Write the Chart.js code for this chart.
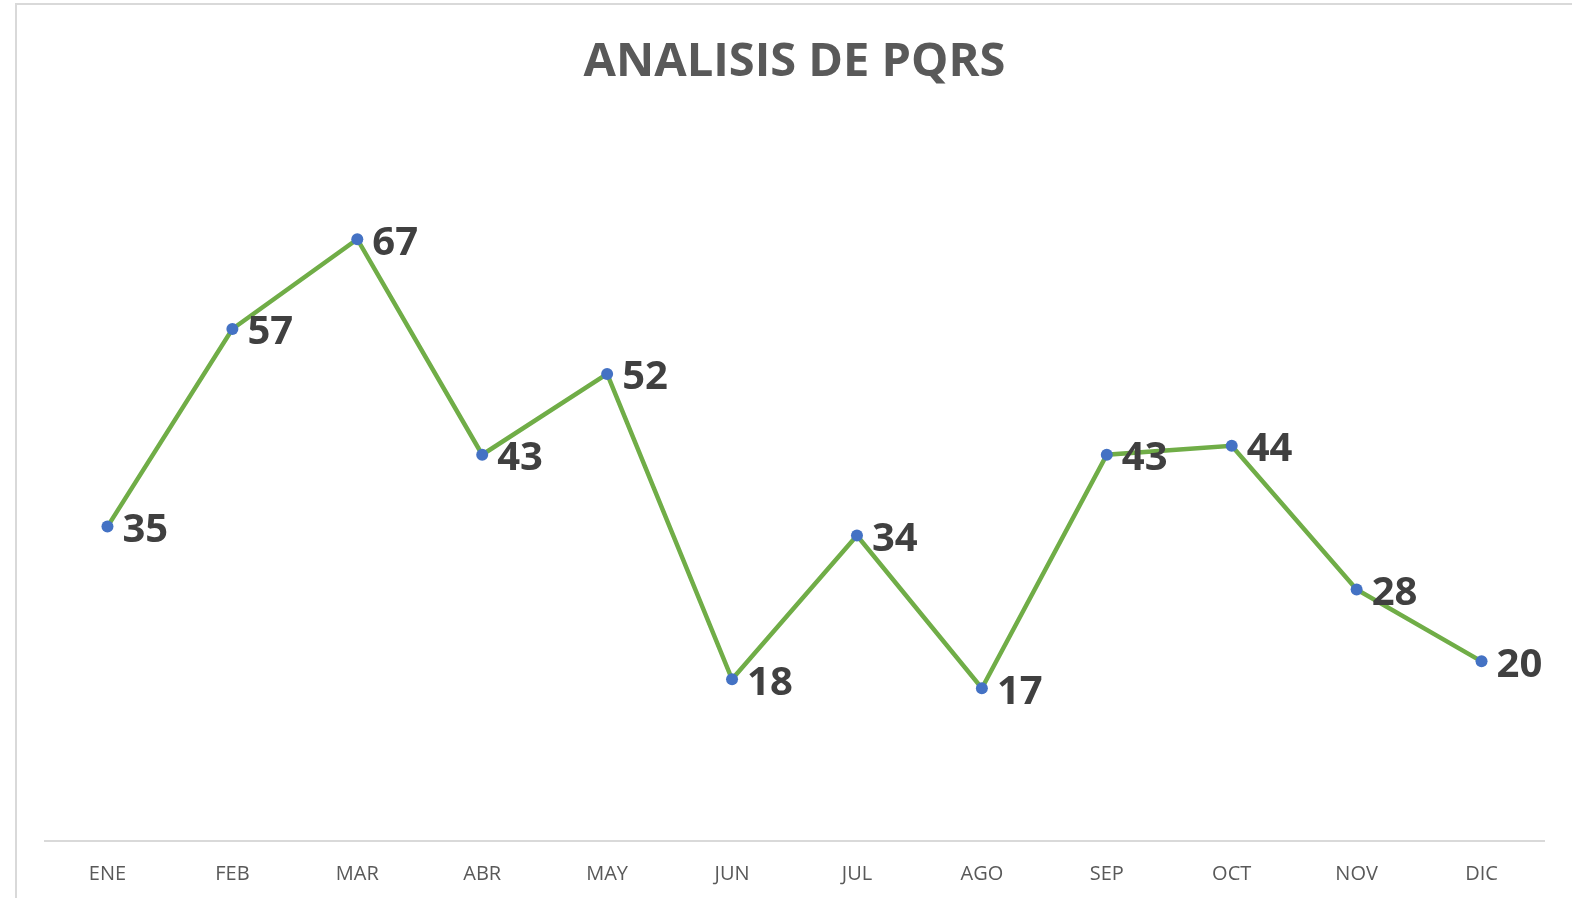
<!DOCTYPE html>
<html>
<head>
<meta charset="utf-8">
<script src="https://cdn.jsdelivr.net/npm/chart.js@4"></script>
<style>
  html, body { margin: 0; padding: 0; background: #fff; overflow: hidden; }
  #wrap { position: relative; width: 1572px; height: 898px; }
  #frame {
    position: absolute; left: 15px; top: 3px; width: 2000px; height: 2000px;
    border-left: 2px solid #d9d9d9; border-top: 2px solid #d9d9d9;
    pointer-events: none;
  }
  canvas { position: absolute; left: 0; top: 0; }
</style>
</head>
<body>
<div id="wrap">
  <div id="frame"></div>
  <canvas id="pqrsChart" width="1572" height="898"></canvas>
</div>
<script>
const months = ['ENE', 'FEB', 'MAR', 'ABR', 'MAY', 'JUN', 'JUL', 'AGO', 'SEP', 'OCT', 'NOV', 'DIC'];
const pqrsValues = [35, 57, 67, 43, 52, 18, 34, 17, 43, 44, 28, 20];
const chartTitle = 'ANALISIS DE PQRS';

const fontFamily = '"Open Sans", "Noto Sans", sans-serif';

// draws the value next to each point (no datalabels plugin offline)
const pointLabels = {
    id: 'pointLabels',
    afterDatasetsDraw(chart) {
        const ctx = chart.ctx;
        const meta = chart.getDatasetMeta(0);
        ctx.save();
        ctx.font = 'bold 40px ' + fontFamily;
        ctx.fillStyle = '#404040';
        ctx.textAlign = 'left';
        ctx.textBaseline = 'middle';
        meta.data.forEach((pt, i) => {
            ctx.fillText(String(pqrsValues[i]), pt.x + 15, pt.y + 4);
        });
        ctx.restore();
    }
};

new Chart(document.getElementById('pqrsChart'), {
    type: 'line',
    data: {
        labels: months,
        datasets: [{
            data: pqrsValues,
            borderColor: '#70AD47',
            borderWidth: 4.5,
            pointBackgroundColor: '#4472C4',
            pointBorderColor: '#4472C4',
            pointBorderWidth: 0,
            pointRadius: 6,
            tension: 0,
            fill: false
        }]
    },
    options: {
        responsive: false,
        animation: false,
        devicePixelRatio: 1,
        layout: { autoPadding: false, padding: { left: 45, right: 28, top: 0, bottom: -9 } },
        plugins: {
            legend: { display: false },
            tooltip: { enabled: false },
            title: {
                display: true,
                text: chartTitle,
                color: '#595959',
                font: { family: fontFamily, size: 47, weight: 'bold' },
                padding: { top: 34, bottom: 32 }
            }
        },
        scales: {
            x: {
                offset: true,
                grid: { display: false, drawTicks: false },
                border: { display: true, color: '#d9d9d9', width: 2 },
                ticks: {
                    color: '#595959',
                    font: { family: fontFamily, size: 20, lineHeight: 1 },
                    padding: 23,
                    maxRotation: 0,
                    autoSkip: false
                }
            },
            y: {
                display: false,
                min: 0,
                max: 80
            }
        }
    },
    plugins: [pointLabels]
});
</script>
</body>
</html>
